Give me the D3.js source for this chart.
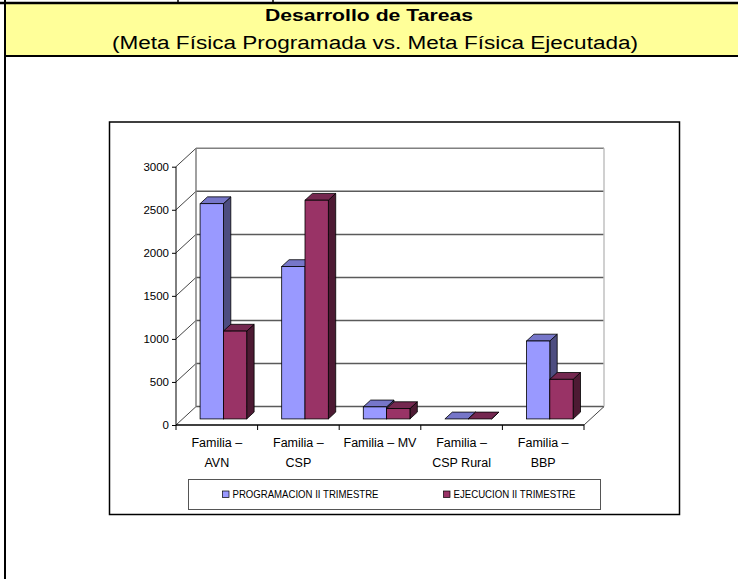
<!DOCTYPE html>
<html>
<head>
<meta charset="utf-8">
<script src="https://cdn.jsdelivr.net/npm/d3@7"></script>
<style>
  body { margin: 0; background: #fff; }
  svg { display: block; font-family: "Liberation Sans", Arial, sans-serif; }
</style>
</head>
<body>
<svg id="chart" width="738" height="579"></svg>
<script>
// chart data
const categoryLabels = [["Familia –", "AVN"], ["Familia –", "CSP"], ["Familia – MV"], ["Familia –", "CSP Rural"], ["Familia –", "BBP"]];
const seriesNames = ["PROGRAMACION II TRIMESTRE", "EJECUCION II TRIMESTRE"];
const programacion = [2500, 1770, 140, 0, 905];
const ejecucion = [1020, 2540, 120, 0, 460];
const yTicks = [0, 500, 1000, 1500, 2000, 2500, 3000];

const titleText = "Desarrollo de Tareas";
const subtitleText = "(Meta Física Programada vs. Meta Física Ejecutada)";

const colors = [
    { front: "#9999ff", top: "#7676c9", side: "#4d4d80" },
    { front: "#993366", top: "#752850", side: "#4d1a33" }
];

const svg = d3.select("#chart");

// page frame / title band
svg.append("rect").attr("x", 5).attr("y", 4).attr("width", 740).attr("height", 52).attr("fill", "#ffff99");
svg.append("line").attr("x1", 0).attr("x2", 738).attr("y1", 3).attr("y2", 3).attr("stroke", "#000").attr("stroke-width", 2.5);
svg.append("line").attr("x1", 5).attr("x2", 738).attr("y1", 56).attr("y2", 56).attr("stroke", "#000").attr("stroke-width", 2);
[178, 273].forEach(x => {
    svg.append("line").attr("x1", x).attr("x2", x).attr("y1", 0).attr("y2", 3).attr("stroke", "#000").attr("stroke-width", 1.5);
});
svg.append("line").attr("x1", 5).attr("x2", 5).attr("y1", 0).attr("y2", 579).attr("stroke", "#000").attr("stroke-width", 2);

svg.append("text")
    .attr("x", 369).attr("y", 21)
    .attr("text-anchor", "middle")
    .attr("textLength", 208).attr("lengthAdjust", "spacingAndGlyphs")
    .style("font-size", "17px").style("font-weight", "bold")
    .text(titleText);
svg.append("text")
    .attr("x", 375).attr("y", 49)
    .attr("text-anchor", "middle")
    .attr("textLength", 526).attr("lengthAdjust", "spacingAndGlyphs")
    .style("font-size", "18px")
    .text(subtitleText);

// chart box
svg.append("rect")
    .attr("x", 109.5).attr("y", 122).attr("width", 570).attr("height", 392.5)
    .attr("fill", "#fff").attr("stroke", "#000").attr("stroke-width", 1.5);

// 3D plot geometry
const depthX = 20, depthY = 18.4;
const y = d3.scaleLinear().domain([0, 3000]).range([425, 166.7]);
const x0 = d3.scaleBand().domain(d3.range(categoryLabels.length)).range([176, 584]);
const x1 = d3.scaleBand().domain(d3.range(seriesNames.length)).range([0, x0.bandwidth()]).paddingOuter(0.75);
const seriesValues = [programacion, ejecucion];

const g = svg.append("g");
const left = x0.range()[0], right = x0.range()[1];

// back wall grid
yTicks.forEach(v => {
    const yb = y(v) - depthY;
    g.append("line").attr("x1", left + depthX).attr("x2", right + depthX).attr("y1", yb).attr("y2", yb)
        .attr("stroke", v === 3000 ? "#808080" : "#5a5a5a").attr("stroke-width", 1.5);
    g.append("line").attr("x1", left).attr("x2", left + depthX).attr("y1", y(v)).attr("y2", yb)
        .attr("stroke", "#444").attr("stroke-width", 1);
});
g.append("line").attr("x1", left + depthX).attr("x2", left + depthX)
    .attr("y1", y(0) - depthY).attr("y2", y(3000) - depthY).attr("stroke", "#808080").attr("stroke-width", 1.5);
g.append("line").attr("x1", right + depthX).attr("x2", right + depthX)
    .attr("y1", y(0) - depthY).attr("y2", y(3000) - depthY).attr("stroke", "#c0c0c0").attr("stroke-width", 1.5);
g.append("line").attr("x1", right).attr("x2", right + depthX)
    .attr("y1", y(0)).attr("y2", y(0) - depthY).attr("stroke", "#444").attr("stroke-width", 1);

// bars
const f0 = 0.33, f1 = 0.70;
categoryLabels.forEach((c, i) => {
    seriesValues.forEach((vals, s) => {
        const col = colors[s];
        const xl = x0(i) + x1(s) + depthX * f0;
        const xr = xl + x1.bandwidth();
        const yb = y(0) - depthY * f0;
        const yt = y(vals[i]) - depthY * f0;
        const dx = depthX * (f1 - f0), dy = depthY * (f1 - f0);
        const pts = a => a.map(p => p.join(",")).join(" ");
        g.append("polygon").attr("points", pts([[xr, yb], [xr + dx, yb - dy], [xr + dx, yt - dy], [xr, yt]]))
            .attr("fill", col.side).attr("stroke", "#000").attr("stroke-width", 0.8);
        g.append("polygon").attr("points", pts([[xl, yt], [xr, yt], [xr + dx, yt - dy], [xl + dx, yt - dy]]))
            .attr("fill", col.top).attr("stroke", "#000").attr("stroke-width", 0.8);
        if (vals[i] > 0) {
            g.append("rect").attr("x", xl).attr("y", yt).attr("width", xr - xl).attr("height", yb - yt)
                .attr("fill", col.front).attr("stroke", "#000").attr("stroke-width", 0.8);
        }
    });
});

// front axes
g.append("line").attr("x1", left).attr("x2", left).attr("y1", y(0)).attr("y2", y(3000)).attr("stroke", "#000").attr("stroke-width", 1);
g.append("line").attr("x1", left).attr("x2", right).attr("y1", y(0)).attr("y2", y(0)).attr("stroke", "#000").attr("stroke-width", 1.5);

const yAxis = d3.axisLeft(y).tickValues(yTicks).tickSize(4).tickPadding(3).tickFormat(d3.format("d"));
const yAxisG = g.append("g").attr("transform", `translate(${left},0)`).call(yAxis);
yAxisG.select(".domain").remove();
yAxisG.selectAll("text").style("font-size", "11.5px").style("font-family", "Liberation Sans, Arial, sans-serif").attr("fill", "#000");

const xTickPos = d3.range(categoryLabels.length + 1).map(i => left + i * x0.step());
xTickPos.forEach(xp => {
    g.append("line").attr("x1", xp).attr("x2", xp).attr("y1", y(0)).attr("y2", y(0) + 5).attr("stroke", "#000");
});

categoryLabels.forEach((lines, i) => {
    const t = g.append("text").attr("text-anchor", "middle").style("font-size", "12.5px");
    lines.forEach((ln, k) => {
        t.append("tspan").attr("x", x0(i) + x0.bandwidth() / 2).attr("y", 447 + k * 19.5).text(ln);
    });
});

// legend
svg.append("rect").attr("x", 188.5).attr("y", 479.5).attr("width", 412).attr("height", 30)
    .attr("fill", "#fff").attr("stroke", "#555").attr("stroke-width", 1);
const legendX = [222.5, 443.5], legendW = [146, 122];
seriesNames.forEach((name, s) => {
    svg.append("rect").attr("x", legendX[s]).attr("y", 491).attr("width", 6.5).attr("height", 6.5)
        .attr("fill", colors[s].front).attr("stroke", "#000").attr("stroke-width", 0.7);
    svg.append("text").attr("x", legendX[s] + 10).attr("y", 498)
        .attr("textLength", legendW[s]).attr("lengthAdjust", "spacingAndGlyphs")
        .style("font-size", "10.5px").text(name);
});
</script>
</body>
</html>
